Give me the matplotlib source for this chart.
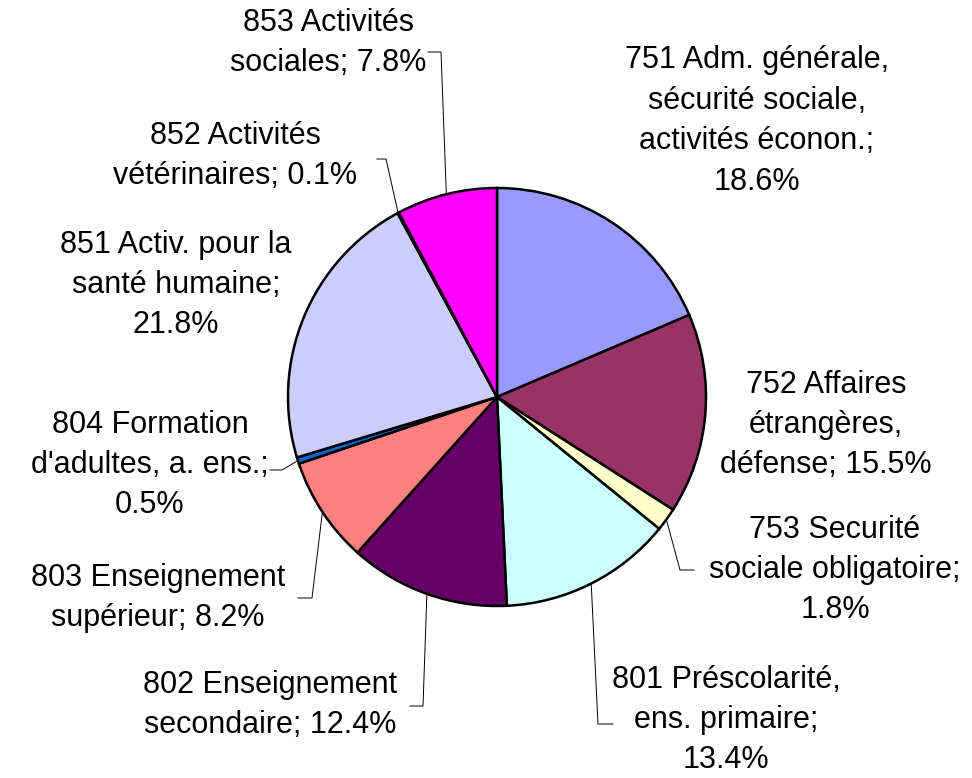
import matplotlib
matplotlib.use("Agg")
import matplotlib.pyplot as plt
import numpy as np

plt.rcParams['font.family'] = ['Liberation Sans', 'DejaVu Sans']

# slices, clockwise from 12 o'clock
codes = ["751", "752", "753", "801", "802", "803", "804", "851", "852", "853"]
shares = [18.6, 15.5, 1.8, 13.4, 12.4, 8.2, 0.5, 21.8, 0.1, 7.8]
label_fmt = [
    "751 Adm. générale,\nsécurité sociale,\nactivités éconon.;\n{}%",
    "752 Affaires\nétrangères,\ndéfense; {}%",
    "753 Securité\nsociale obligatoire;\n{}%",
    "801 Préscolarité,\nens. primaire;\n{}%",
    "802 Enseignement\nsecondaire; {}%",
    "803 Enseignement\nsupérieur; {}%",
    "804 Formation\nd'adultes, a. ens.;\n{}%",
    "851 Activ. pour la\nsanté humaine;\n{}%",
    "852 Activités\nvétérinaires; {}%",
    "853 Activités\nsociales; {}%",
]
colors = ["#9999FF", "#993366", "#FFFFCC", "#CCFFFF", "#660066",
          "#FF8080", "#0066CC", "#CCCCFF", "#000080", "#FF00FF"]

W, H = 972, 778
cx, cy, r = 497, 397, 209

# label centre (px, from top-left) and leader elbow / end (None = no leader)
label_pos = [(757, 121), (826, 425), (835, 570), (726, 720), (270, 705),
             (158, 598), (150, 465), (176, 285), (235, 156), (328, 43)]
leaders = [None, None, ((680, 570), (694, 570)), ((598, 724), (613, 724)),
           ((423, 706), (410, 706)), ((312, 598), (298, 598)),
           ((282, 470), (270, 470)), None, ((386, 159), (377, 159)),
           ((441, 52), (428, 52))]

fig = plt.figure(figsize=(W / 100, H / 100), dpi=100)
ax = fig.add_axes([0, 0, 1, 1])

wedges, _ = ax.pie(shares, colors=colors, startangle=90, counterclock=False,
                   center=(cx, H - cy), radius=r,
                   wedgeprops=dict(edgecolor='black', linewidth=1.8))
ax.set_xlim(0, W)
ax.set_ylim(0, H)
ax.set_aspect('equal')
ax.axis('off')

for w, fmt, pos, ld, v in zip(wedges, label_fmt, label_pos, leaders, shares):
    ax.text(pos[0], H - pos[1], fmt.format(v), ha='center', va='center',
            multialignment='center', fontsize=22, linespacing=1.45)
    if ld is None:
        continue
    mid = np.deg2rad((w.theta1 + w.theta2) / 2)
    ex, ey = cx + r * np.cos(mid), H - cy + r * np.sin(mid)
    xs = [ex, ld[0][0], ld[1][0]]
    ys = [ey, H - ld[0][1], H - ld[1][1]]
    ax.plot(xs, ys, color='black', linewidth=0.7)

fig.savefig("out.png", dpi=100)
